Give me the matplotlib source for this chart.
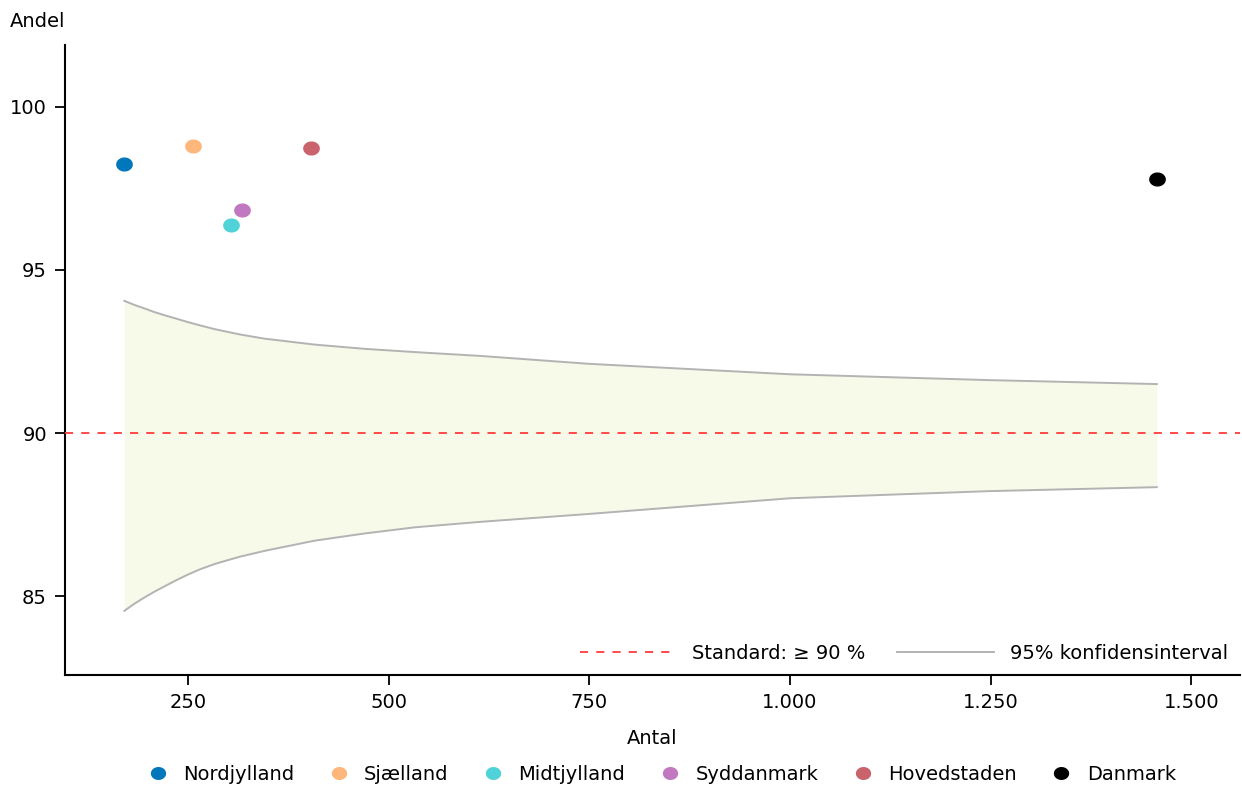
import numpy as np
import matplotlib
matplotlib.use("Agg")
import matplotlib.pyplot as plt
from matplotlib.path import Path
from matplotlib.lines import Line2D
from matplotlib.ticker import FuncFormatter

plt.rcParams['font.family'] = ['DejaVu Sans']

# regions: number of cases and share meeting the standard (%)
regions = ["Nordjylland", "Sjælland", "Midtjylland", "Syddanmark", "Hovedstaden", "Danmark"]
antal = [171, 256, 304, 318, 404, 1457]
andel = [98.25, 98.80, 96.38, 96.84, 98.74, 97.80]
colors = ["#0077bb", "#fdb77a", "#50d3d8", "#c277c1", "#c9636c", "#000000"]

# 95% confidence band around the 90 % standard
ci_n = [171, 183, 196, 208, 221, 235, 250, 265, 284, 315, 346, 408, 470, 533, 616,
        750, 1000, 1250, 1457]
ci_upper = [94.05, 93.93, 93.82, 93.71, 93.61, 93.51, 93.40, 93.30, 93.18, 93.02, 92.89,
            92.71, 92.58, 92.48, 92.36, 92.12, 91.80, 91.62, 91.50]
ci_lower = [84.55, 84.76, 84.96, 85.13, 85.30, 85.48, 85.66, 85.82, 85.99, 86.21, 86.39,
            86.70, 86.92, 87.11, 87.28, 87.52, 88.00, 88.22, 88.34]
standard = 90

xticks = [250, 500, 750, 1000, 1250, 1500]
yticks = [85, 90, 95, 100]

# slightly wide dot marker
t = np.linspace(0, 2 * np.pi, 60)
ellipse = Path(np.column_stack([1.2 * np.cos(t), np.sin(t)]), closed=True)

fig = plt.figure(figsize=(12.42, 7.85), dpi=100)
ax = fig.add_axes([0.0523, 0.140, 0.9457, 0.803])

ax.fill_between(ci_n, ci_lower, ci_upper, color="#f7fae8", linewidth=0, zorder=1)
ax.plot(ci_n, ci_upper, color="#b3b3b3", lw=1.4, zorder=2)
ax.plot(ci_n, ci_lower, color="#b3b3b3", lw=1.4, zorder=2)
ax.axhline(standard, color="#ff3b3b", lw=1.3, linestyle=(0, (4.5, 4.5)), zorder=3)

for name, x, y, c in zip(regions, antal, andel, colors):
    ax.plot(x, y, marker=ellipse, ms=11, color=c, linestyle="none", zorder=4, label=name)

ax.set_xlim(97, 1560)
ax.set_ylim(82.58, 101.9)
ax.set_xticks(xticks)
ax.set_yticks(yticks)
ax.xaxis.set_major_formatter(FuncFormatter(lambda v, p: f"{int(v):,}".replace(",", ".")))
for s in ["top", "right"]:
    ax.spines[s].set_visible(False)
for s in ["left", "bottom"]:
    ax.spines[s].set_linewidth(1.5)
ax.tick_params(direction="out", length=7, width=1.3, labelsize=14, pad=6)

ax.set_xlabel("Antal", fontsize=14, labelpad=12)
fig.text(0.008, 0.973, "Andel", fontsize=14, va="center", ha="left")

inner = [Line2D([], [], color="#ff3b3b", lw=1.3, linestyle=(0, (4.5, 4.5))),
         Line2D([], [], color="#b3b3b3", lw=1.4)]
ax.legend(inner, ["Standard: ≥ 90 %", "95% konfidensinterval"], loc="lower right",
          bbox_to_anchor=(1.005, -0.008), ncol=2, frameon=False, fontsize=14,
          handlelength=5.0, columnspacing=1.6, handletextpad=0.8)

handles = [Line2D([], [], marker=ellipse, ms=10, color=c, linestyle="none") for c in colors]
fig.legend(handles, regions, loc="center", bbox_to_anchor=(0.529, 0.014), ncol=6,
           frameon=False, fontsize=14, handletextpad=0.3, columnspacing=1.3)

fig.savefig("out.png", dpi=100)
